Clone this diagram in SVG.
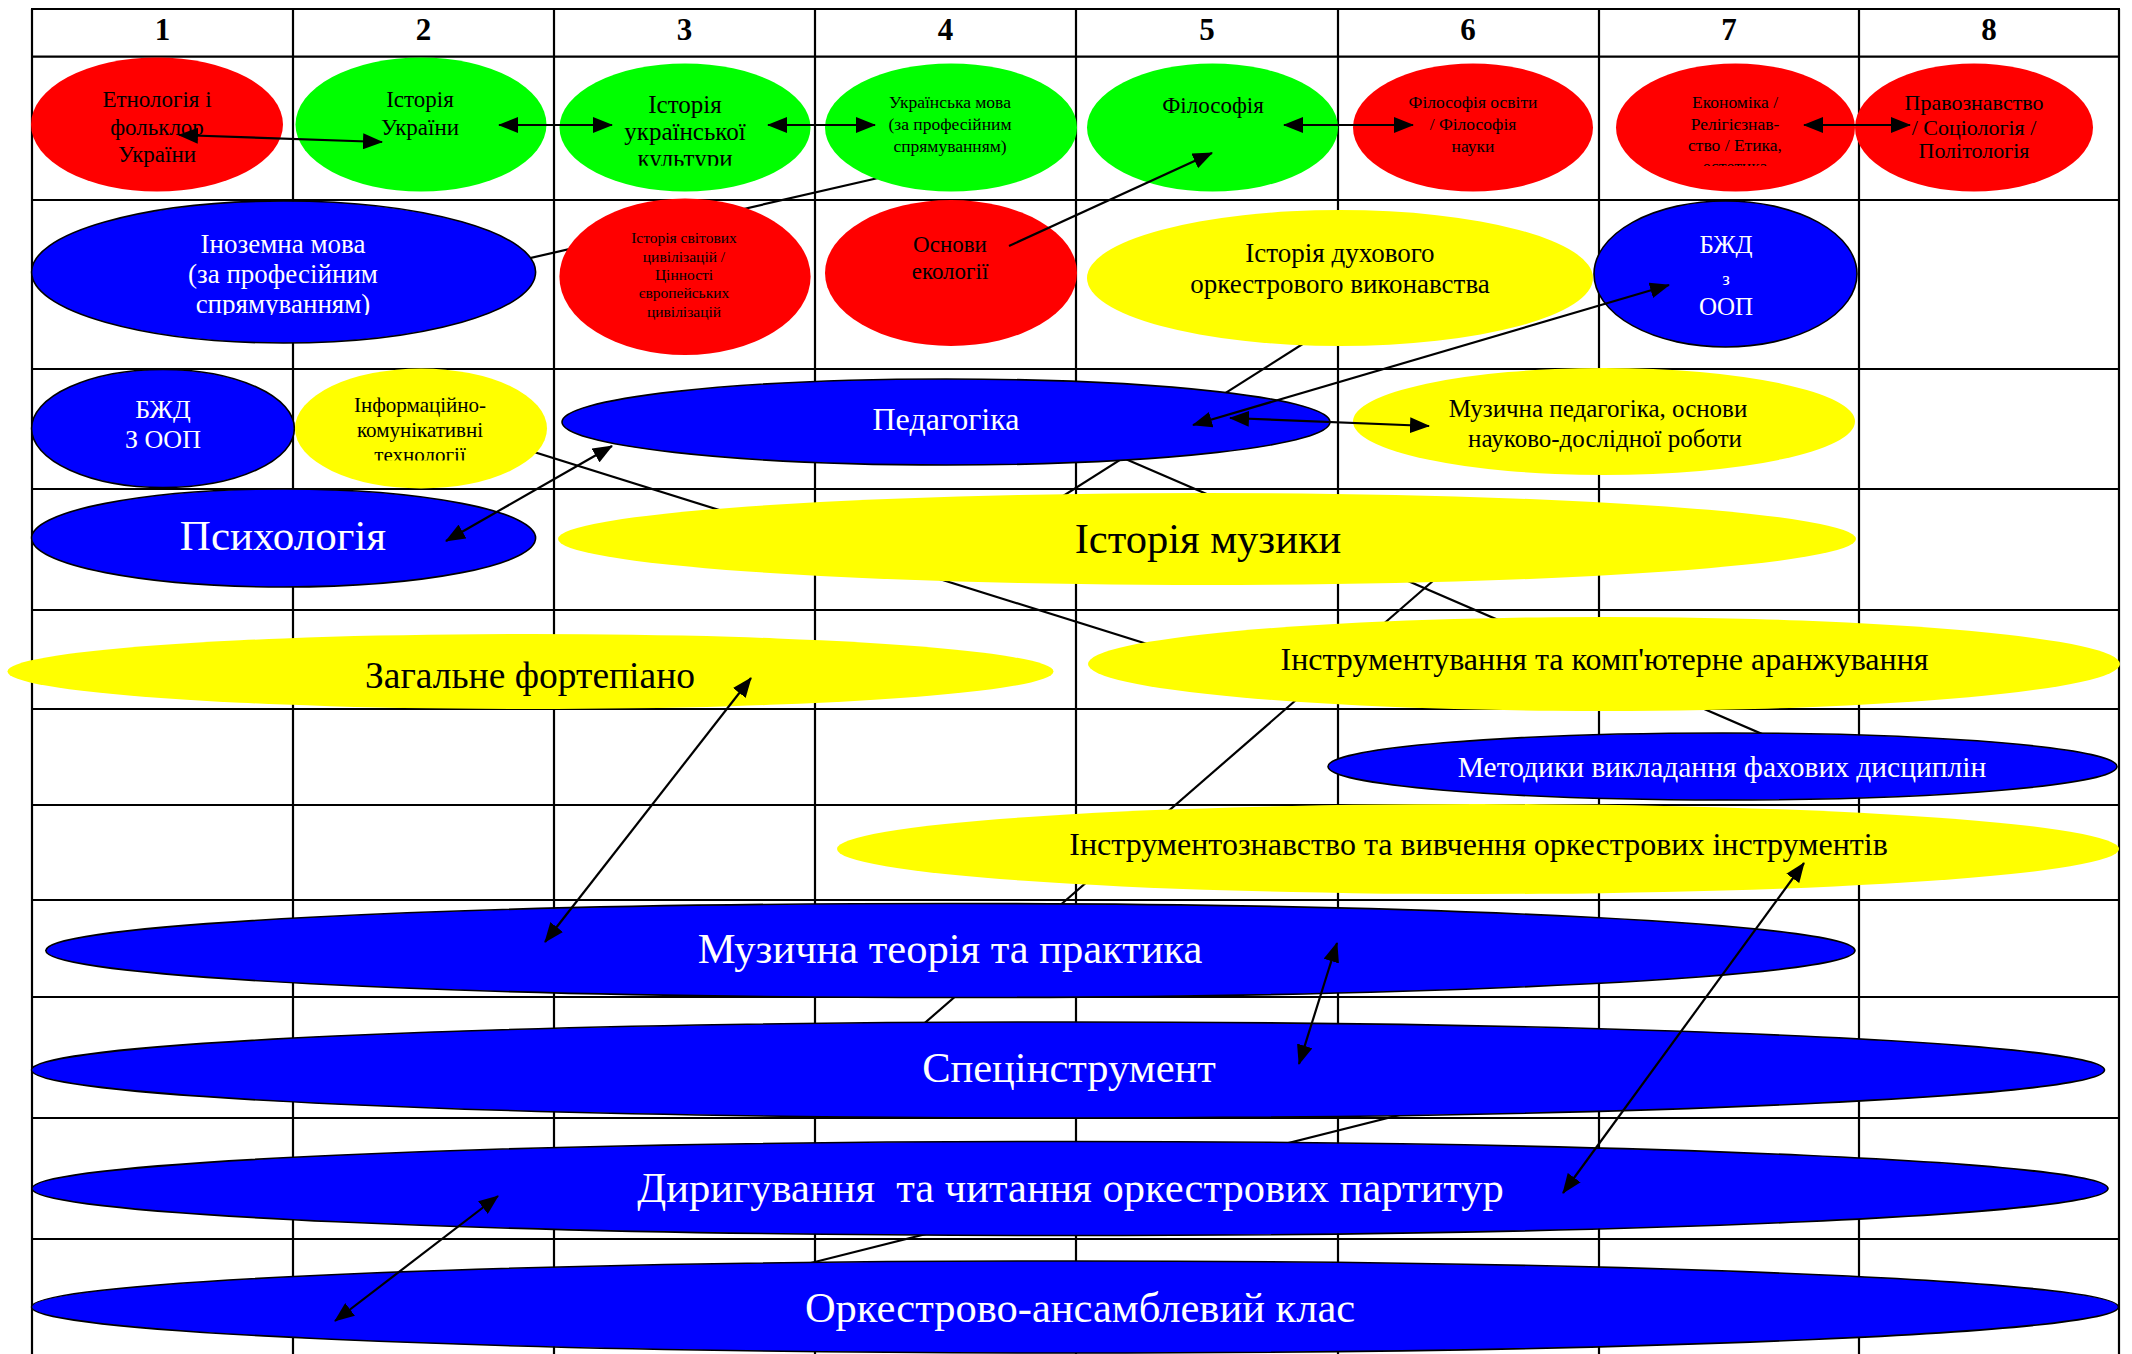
<svg xmlns="http://www.w3.org/2000/svg" width="2132" height="1354" viewBox="0 0 2132 1354">
<style>
.red{fill:#FF0000}
.green{fill:#00FF00}
.yellow{fill:#FFFF00}
.blue{fill:#0000FF;stroke:#000;stroke-width:1.6}
text{font-family:"Liberation Serif","Times New Roman",serif;text-anchor:middle;fill:#000}
text.w{fill:#fff}
.hd{font-weight:bold;font-size:31px}
.grid line{stroke:#000;stroke-width:2.2}
.conn line{stroke:#000;stroke-width:2.2;fill:none}
.conn .a2{marker-start:url(#ah);marker-end:url(#ah)}
.conn .a1{marker-end:url(#ah)}
</style>
<defs>
<marker id="ah" viewBox="0 0 20 16" refX="19" refY="8" markerWidth="20" markerHeight="16" markerUnits="userSpaceOnUse" orient="auto-start-reverse">
<path d="M0,0 L20,8 L0,16 z" fill="#000"/>
</marker>
<clipPath id="clipKult"><rect x="540" y="60" width="290" height="105.7"/></clipPath>
<clipPath id="clipEkon"><rect x="1610" y="60" width="250" height="106"/></clipPath>
<clipPath id="clipInoz"><rect x="30" y="200" width="510" height="115"/></clipPath>
<clipPath id="clipInf"><rect x="290" y="369" width="260" height="91.5"/></clipPath>
</defs>
<rect width="2132" height="1354" fill="#fff"/>
<g id="grid" class="grid">
<line x1="32" y1="9" x2="32" y2="1354"/>
<line x1="293" y1="9" x2="293" y2="1354"/>
<line x1="554" y1="9" x2="554" y2="1354"/>
<line x1="815" y1="9" x2="815" y2="1354"/>
<line x1="1076" y1="9" x2="1076" y2="1354"/>
<line x1="1338" y1="9" x2="1338" y2="1354"/>
<line x1="1599" y1="9" x2="1599" y2="1354"/>
<line x1="1859" y1="9" x2="1859" y2="1354"/>
<line x1="2119" y1="9" x2="2119" y2="1354"/>
<line x1="31" y1="9" x2="2120" y2="9"/>
<line x1="31" y1="56.7" x2="2120" y2="56.7"/>
<line x1="31" y1="200" x2="2120" y2="200"/>
<line x1="31" y1="369" x2="2120" y2="369"/>
<line x1="31" y1="489" x2="2120" y2="489"/>
<line x1="31" y1="610" x2="2120" y2="610"/>
<line x1="31" y1="709" x2="2120" y2="709"/>
<line x1="31" y1="805" x2="2120" y2="805"/>
<line x1="31" y1="900" x2="2120" y2="900"/>
<line x1="31" y1="997" x2="2120" y2="997"/>
<line x1="31" y1="1118" x2="2120" y2="1118"/>
<line x1="31" y1="1239" x2="2120" y2="1239"/>
<text class="hd" x="162.5" y="40">1</text>
<text class="hd" x="423.5" y="40">2</text>
<text class="hd" x="684.5" y="40">3</text>
<text class="hd" x="945.5" y="40">4</text>
<text class="hd" x="1207" y="40">5</text>
<text class="hd" x="1468" y="40">6</text>
<text class="hd" x="1729" y="40">7</text>
<text class="hd" x="1989" y="40">8</text>
</g>
<g id="connectors-behind" class="conn">
<line x1="500" y1="265" x2="900" y2="173"/>
<line x1="1320" y1="333" x2="1000" y2="536"/>
<line x1="500" y1="441.4" x2="1300" y2="691.8"/>
<line x1="1100" y1="447.9" x2="1790" y2="746"/>
<line x1="850" y1="1088" x2="1480" y2="540"/>
<line x1="780" y1="1270.7" x2="1500" y2="1089.8"/>
</g>
<g id="n-etnolohiia"><ellipse class="red" cx="157" cy="124.5" rx="126" ry="67"/>
<text font-size="23"><tspan x="157" y="106.7">Етнологія і</tspan><tspan x="157" y="134.5">фольклор</tspan><tspan x="157" y="161.7">України</tspan></text></g>
<g id="n-istoriia-ukrainy"><ellipse class="green" cx="421" cy="124.5" rx="125.5" ry="67"/>
<text font-size="23"><tspan x="420" y="106.7">Історія</tspan><tspan x="420" y="135">України</tspan></text></g>
<g id="n-istoriia-kultury"><ellipse class="green" cx="685" cy="127.5" rx="125.5" ry="64"/>
<text font-size="25" clip-path="url(#clipKult)"><tspan x="685" y="113.3">Історія</tspan><tspan x="685" y="140">української</tspan><tspan x="685" y="166.5">культури</tspan></text></g>
<g id="n-ukr-mova"><ellipse class="green" cx="951" cy="127.5" rx="126" ry="64"/>
<text font-size="17.5"><tspan x="950" y="108.3">Українська мова</tspan><tspan x="950" y="130">(за професійним</tspan><tspan x="950" y="151.7">спрямуванням)</tspan></text></g>
<g id="n-filosofiia"><ellipse class="green" cx="1212.5" cy="127.5" rx="125.5" ry="64"/>
<text font-size="23" x="1213" y="113.3">Філософія</text></g>
<g id="n-filosofiia-osvity"><ellipse class="red" cx="1473" cy="127.5" rx="120" ry="64"/>
<text font-size="17.5"><tspan x="1473" y="108.3">Філософія освіти</tspan><tspan x="1473" y="130">/ Філософія</tspan><tspan x="1473" y="151.7">науки</tspan></text></g>
<g id="n-ekonomika"><ellipse class="red" cx="1735.5" cy="127.5" rx="119.5" ry="64"/>
<text font-size="17.5" clip-path="url(#clipEkon)"><tspan x="1735" y="108.3">Економіка /</tspan><tspan x="1735" y="129.5">Релігієзнав-</tspan><tspan x="1735" y="150.5">ство / Етика,</tspan><tspan x="1735" y="172">естетика</tspan></text></g>
<g id="n-pravoznavstvo"><ellipse class="red" cx="1974" cy="127.5" rx="119" ry="64"/>
<text font-size="22"><tspan x="1974" y="110">Правознавство</tspan><tspan x="1974" y="135">/ Соціологія /</tspan><tspan x="1974" y="158.3">Політологія</tspan></text></g>
<g id="n-inozemna"><ellipse class="blue" cx="283.6" cy="272" rx="252" ry="71"/>
<text class="w" font-size="27" clip-path="url(#clipInoz)"><tspan x="283" y="253.3">Іноземна мова</tspan><tspan x="283" y="283.3">(за професійним</tspan><tspan x="283" y="313.3">спрямуванням)</tspan></text></g>
<g id="n-tsyvilizatsii"><ellipse class="red" cx="685" cy="276.7" rx="125.6" ry="78.3"/>
<text font-size="15.5"><tspan x="684" y="243.3">Історія світових</tspan><tspan x="684" y="261.7">цивілізацій /</tspan><tspan x="684" y="280">Цінності</tspan><tspan x="684" y="298.3">європейських</tspan><tspan x="684" y="316.7">цивілізацій</tspan></text></g>
<g id="n-ekolohiia"><ellipse class="red" cx="951" cy="273" rx="126" ry="73"/>
<text font-size="23"><tspan x="950" y="251.7">Основи</tspan><tspan x="950" y="279.3">екології</tspan></text></g>
<g id="n-dukhove"><ellipse class="yellow" cx="1340" cy="278" rx="253" ry="68"/>
<text font-size="27"><tspan x="1340" y="261.7">Історія духового</tspan><tspan x="1340" y="293.3">оркестрового виконавства</tspan></text></g>
<g id="n-bzhd-7"><ellipse class="blue" cx="1725.5" cy="274" rx="131.5" ry="73"/>
<text class="w"><tspan font-size="25" x="1726" y="253.3">БЖД</tspan><tspan font-size="19" x="1726" y="285">з</tspan><tspan font-size="25" x="1726" y="315">ООП</tspan></text></g>
<g id="n-bzhd-1"><ellipse class="blue" cx="163" cy="428.5" rx="131.4" ry="59"/>
<text class="w" font-size="26"><tspan x="163" y="417.7">БЖД</tspan><tspan x="163" y="448.3">З ООП</tspan></text></g>
<g id="n-ikt"><ellipse class="yellow" cx="421" cy="428.5" rx="126" ry="60"/>
<text font-size="21" clip-path="url(#clipInf)"><tspan x="420" y="412.3">Інформаційно-</tspan><tspan x="420" y="436.7">комунікативні</tspan><tspan x="420" y="461.5">технології</tspan></text></g>
<g id="n-pedahohika"><ellipse class="blue" cx="946" cy="422" rx="384" ry="43"/>
<text class="w" font-size="32" x="946" y="430">Педагогіка</text></g>
<g id="n-muz-pedahohika"><ellipse class="yellow" cx="1604" cy="421.5" rx="251" ry="53.5"/>
<text font-size="25"><tspan x="1598" y="416.7">Музична педагогіка, основи</tspan><tspan x="1605" y="446.7">науково-дослідної роботи</tspan></text></g>
<g id="n-psykholohiia"><ellipse class="blue" cx="283.6" cy="538" rx="252" ry="49"/>
<text class="w" font-size="43" x="283" y="550">Психологія</text></g>
<g id="n-istoriia-muzyky"><ellipse class="yellow" cx="1207" cy="539" rx="649" ry="46"/>
<text font-size="42.5" x="1208" y="553">Історія музики</text></g>
<g id="n-fortepiano"><ellipse class="yellow" cx="530.5" cy="671.5" rx="523" ry="37.5"/>
<text font-size="37.5" x="530" y="688.3">Загальне фортепіано</text></g>
<g id="n-instrumentuvannia"><ellipse class="yellow" cx="1604" cy="664" rx="516" ry="47"/>
<text font-size="32" x="1604.5" y="670">Інструментування та комп'ютерне аранжування</text></g>
<g id="n-metodyky"><ellipse class="blue" cx="1722.5" cy="766.5" rx="394.5" ry="33.5"/>
<text class="w" font-size="29.5" x="1722" y="776.7">Методики викладання фахових дисциплін</text></g>
<g id="n-instrumentoznavstvo"><ellipse class="yellow" cx="1478" cy="849" rx="641" ry="45"/>
<text font-size="32" x="1478.5" y="855">Інструментознавство та вивчення оркестрових інструментів</text></g>
<g id="n-muz-teoriia"><ellipse class="blue" cx="950.4" cy="950.5" rx="904.6" ry="47"/>
<text class="w" font-size="42.5" x="950" y="963.3">Музична теорія та практика</text></g>
<g id="n-spetsinstrument"><ellipse class="blue" cx="1068" cy="1070" rx="1036.5" ry="48"/>
<text class="w" font-size="42.5" x="1069" y="1081.7">Спецінструмент</text></g>
<g id="n-dyryhuvannia"><ellipse class="blue" cx="1070" cy="1188.5" rx="1038" ry="47"/>
<text class="w" font-size="42.5" x="1070.5" y="1201.7" xml:space="preserve">Диригування  та читання оркестрових партитур</text></g>
<g id="n-orkestrovo"><ellipse class="blue" cx="1075" cy="1307" rx="1043.5" ry="46"/>
<text class="w" font-size="42.5" x="1080" y="1321.7">Оркестрово-ансамблевий клас</text></g>
<g id="connectors" class="conn">
<line class="a2" x1="179" y1="135" x2="382" y2="142"/>
<line class="a2" x1="499" y1="125" x2="612" y2="125"/>
<line class="a2" x1="768" y1="125" x2="875" y2="125"/>
<line class="a2" x1="1284" y1="125" x2="1413" y2="125"/>
<line class="a2" x1="1804" y1="125" x2="1910" y2="125"/>
<line class="a1" x1="1009" y1="246" x2="1212" y2="153"/>
<line class="a2" x1="1193" y1="425" x2="1669" y2="285"/>
<line class="a2" x1="1230" y1="418" x2="1429" y2="426"/>
<line class="a2" x1="446" y1="541" x2="612" y2="446"/>
<line class="a2" x1="545" y1="942" x2="751" y2="678"/>
<line class="a2" x1="1337" y1="943" x2="1299" y2="1064"/>
<line class="a2" x1="1804" y1="863" x2="1563" y2="1193"/>
<line class="a2" x1="498" y1="1196" x2="335" y2="1321"/>
</g>
</svg>
